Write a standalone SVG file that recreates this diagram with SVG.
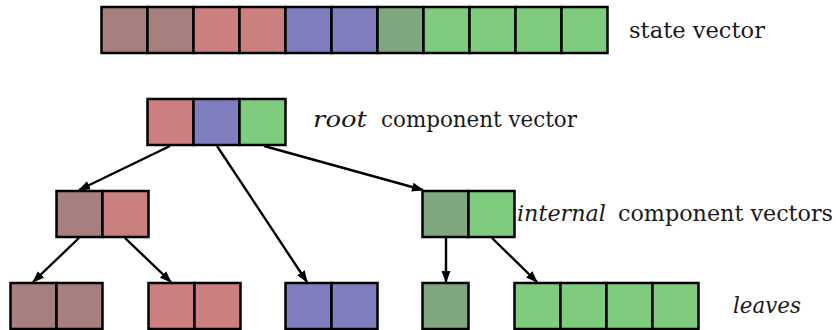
<svg xmlns="http://www.w3.org/2000/svg" width="836" height="330" viewBox="0 0 836 330">
<defs>
<marker id="ah" markerUnits="userSpaceOnUse" markerWidth="12" markerHeight="10" viewBox="0 0 12 10" refX="11" refY="5" orient="auto">
<path d="M0,0.5 L12,5 L0,9.5 Z" fill="#000"/>
</marker>
</defs>
<style>
.c{stroke:#000;stroke-width:2.5}
.br{fill:#a77f7f}
.rd{fill:#cc7f7f}
.bl{fill:#7f7fbf}
.dg{fill:#7fa77f}
.lg{fill:#7fcc7f}
.e{stroke:#000;stroke-width:2.4;fill:none;marker-end:url(#ah)}
.t{font-family:'DejaVu Serif','Liberation Serif',serif;font-size:22px;fill:#1a1a1a}
.i{font-style:italic}
</style>
<g id="state">
<rect class="c br" x="101.5" y="7" width="46" height="46"/>
<rect class="c br" x="147.5" y="7" width="46" height="46"/>
<rect class="c rd" x="193.5" y="7" width="46" height="46"/>
<rect class="c rd" x="239.5" y="7" width="46" height="46"/>
<rect class="c bl" x="285.5" y="7" width="46" height="46"/>
<rect class="c bl" x="331.5" y="7" width="46" height="46"/>
<rect class="c dg" x="377.5" y="7" width="46" height="46"/>
<rect class="c lg" x="423.5" y="7" width="46" height="46"/>
<rect class="c lg" x="469.5" y="7" width="46" height="46"/>
<rect class="c lg" x="515.5" y="7" width="46" height="46"/>
<rect class="c lg" x="561.5" y="7" width="46" height="46"/>
<text class="t" x="629" y="38" textLength="136" lengthAdjust="spacingAndGlyphs">state vector</text>
</g>
<g id="root">
<rect class="c rd" x="147.5" y="99" width="46" height="46"/>
<rect class="c bl" x="193.5" y="99" width="46" height="46"/>
<rect class="c lg" x="239.5" y="99" width="46" height="46"/>
<text class="t i" x="313" y="127" textLength="54" lengthAdjust="spacingAndGlyphs">root</text>
<text class="t" x="381" y="127" textLength="196" lengthAdjust="spacingAndGlyphs">component vector</text>
</g>
<g id="internalLeft">
<rect class="c br" x="56.5" y="191" width="46" height="46"/>
<rect class="c rd" x="102.5" y="191" width="46" height="46"/>
</g>
<g id="internalRight">
<rect class="c dg" x="422.5" y="191" width="46" height="46"/>
<rect class="c lg" x="468.5" y="191" width="46" height="46"/>
<text class="t i" x="517" y="221" textLength="89" lengthAdjust="spacingAndGlyphs">internal</text>
<text class="t" x="618" y="221" textLength="215" lengthAdjust="spacingAndGlyphs">component vectors</text>
</g>
<g id="leafBrown">
<rect class="c br" x="10.5" y="283" width="46" height="46"/>
<rect class="c br" x="56.5" y="283" width="46" height="46"/>
</g>
<g id="leafRed">
<rect class="c rd" x="148.5" y="283" width="46" height="46"/>
<rect class="c rd" x="194.5" y="283" width="46" height="46"/>
</g>
<g id="leafBlue">
<rect class="c bl" x="285.5" y="283" width="46" height="46"/>
<rect class="c bl" x="331.5" y="283" width="46" height="46"/>
</g>
<g id="leafDarkGreen">
<rect class="c dg" x="422.5" y="283" width="46" height="46"/>
</g>
<g id="leafGreen">
<rect class="c lg" x="514.5" y="283" width="46" height="46"/>
<rect class="c lg" x="560.5" y="283" width="46" height="46"/>
<rect class="c lg" x="606.5" y="283" width="46" height="46"/>
<rect class="c lg" x="652.5" y="283" width="46" height="46"/>
<text class="t i" x="733" y="313" textLength="68" lengthAdjust="spacingAndGlyphs">leaves</text>
</g>
<g id="connectors">
<line class="e" x1="170" y1="146" x2="79" y2="190"/>
<line class="e" x1="217" y1="146" x2="307" y2="282"/>
<line class="e" x1="264" y1="146" x2="423" y2="190"/>
<line class="e" x1="79" y1="238" x2="33" y2="282"/>
<line class="e" x1="125" y1="238" x2="171" y2="282"/>
<line class="e" x1="446" y1="238" x2="446" y2="282"/>
<line class="e" x1="492" y1="238" x2="537" y2="282"/>
</g>
</svg>
